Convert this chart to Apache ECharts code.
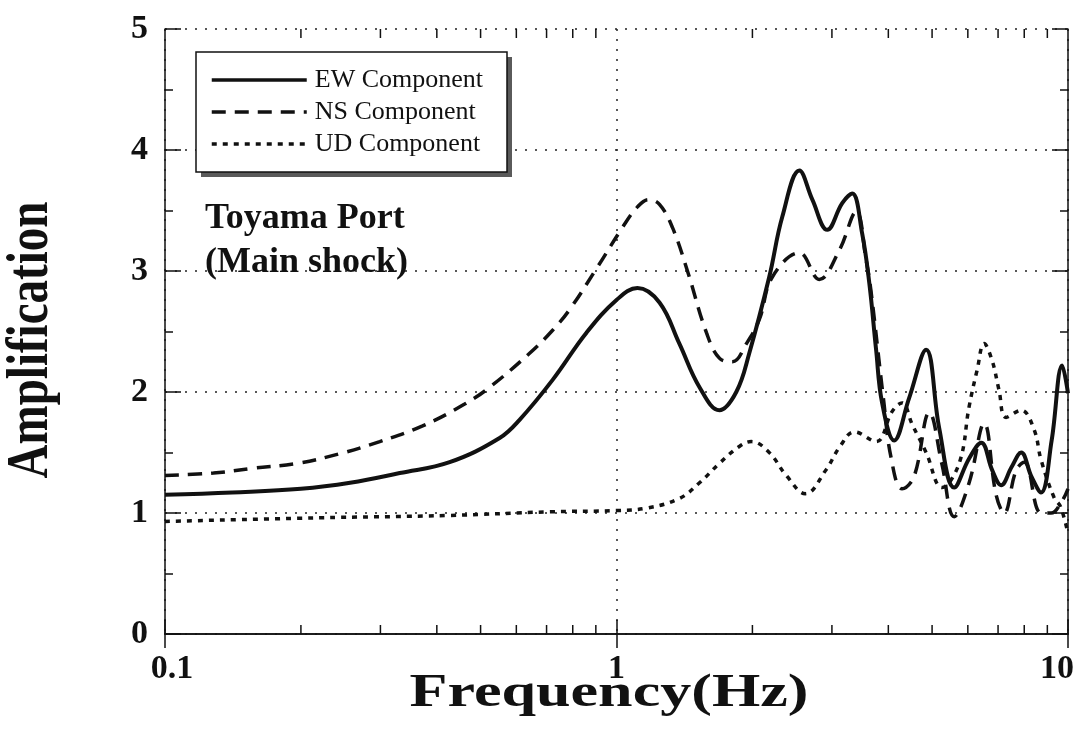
<!DOCTYPE html>
<html>
<head>
<meta charset="utf-8">
<script src="https://cdn.jsdelivr.net/npm/echarts@6/dist/echarts.min.js"></script>
<style>
  html, body { margin: 0; padding: 0; background: #fff; }
  #chart { width: 1092px; height: 748px; }
</style>
</head>
<body>
<div id="chart"></div>
<script>
// Frequency (Hz) and amplification for each component
const freqEW = [0.1, 0.141, 0.2, 0.257, 0.331, 0.427, 0.551, 0.61, 0.722, 0.858, 1.0, 1.113, 1.245, 1.378, 1.527, 1.69, 1.842, 1.968, 2.179, 2.33, 2.541, 2.715, 2.93, 3.162, 3.326, 3.5, 3.63, 3.758, 3.875, 4.12, 4.447, 4.85, 5.186, 5.597, 6.04, 6.424, 6.8, 7.11, 7.5, 7.875, 8.3, 8.715, 9.2, 9.705, 10];
const ampEW  = [1.15, 1.17, 1.2, 1.25, 1.33, 1.42, 1.62, 1.77, 2.1, 2.49, 2.76, 2.86, 2.74, 2.4, 2.04, 1.85, 2.0, 2.32, 2.95, 3.45, 3.83, 3.59, 3.34, 3.56, 3.64, 3.31, 2.9, 2.35, 1.91, 1.6, 1.95, 2.35, 1.7, 1.21, 1.45, 1.58, 1.35, 1.23, 1.38, 1.5, 1.3, 1.17, 1.6, 2.22, 1.99];

const freqNS = [0.1, 0.128, 0.157, 0.196, 0.244, 0.299, 0.372, 0.461, 0.524, 0.642, 0.722, 0.787, 0.903, 1.031, 1.113, 1.177, 1.245, 1.33, 1.436, 1.582, 1.69, 1.806, 1.94, 2.072, 2.214, 2.541, 2.812, 3.114, 3.396, 3.572, 3.66, 3.9, 4.06, 4.29, 4.56, 4.93, 5.26, 5.597, 6.04, 6.52, 6.93, 7.22, 7.67, 8.0, 8.715, 9.17, 9.7, 10];
const ampNS  = [1.31, 1.33, 1.37, 1.41, 1.49, 1.59, 1.72, 1.9, 2.04, 2.32, 2.51, 2.68, 3.02, 3.36, 3.53, 3.59, 3.55, 3.36, 3.0, 2.49, 2.28, 2.25, 2.4, 2.6, 2.95, 3.15, 2.93, 3.17, 3.49, 3.09, 2.84, 1.95, 1.45, 1.2, 1.3, 1.83, 1.4, 0.97, 1.25, 1.74, 1.15, 1.0, 1.35, 1.42, 1.0, 1.0, 1.1, 1.2];

const freqUD = [0.1, 0.217, 0.427, 0.711, 1.0, 1.165, 1.378, 1.527, 1.69, 1.871, 1.99, 2.179, 2.377, 2.62, 2.915, 3.114, 3.365, 3.758, 4.08, 4.29, 4.52, 4.85, 5.26, 5.74, 6.04, 6.29, 6.52, 6.79, 7.03, 7.29, 7.875, 8.41, 8.715, 9.31, 9.63, 10];
const ampUD  = [0.93, 0.96, 0.98, 1.01, 1.02, 1.04, 1.12, 1.25, 1.41, 1.55, 1.59, 1.5, 1.31, 1.16, 1.36, 1.54, 1.67, 1.59, 1.84, 1.91, 1.73, 1.5, 1.21, 1.41, 1.88, 2.18, 2.4, 2.26, 2.02, 1.79, 1.85, 1.69, 1.44, 1.13, 1.05, 0.83];

// Axis ranges and minor log ticks
const freqMin = 0.1, freqMax = 10;
const ampMin = 0, ampMax = 5;
const minorFreqTicks = [0.2, 0.3, 0.4, 0.5, 0.6, 0.7, 0.8, 0.9, 2, 3, 4, 5, 6, 7, 8, 9];

const zip = (xs, ys) => xs.map((x, i) => [x, ys[i]]);
const SERIF = '"Liberation Serif", "Times New Roman", serif';
const INK = '#111';

const chart = echarts.init(document.getElementById('chart'));

const baseX = {
  type: 'log', logBase: 10, min: freqMin, max: freqMax,
  axisLine: { show: true, lineStyle: { color: INK, width: 1.5 } },
  axisTick: { show: true, inside: true, length: 14, lineStyle: { color: INK, width: 1.5 } },
  minorTick: { show: false },
  splitLine: { show: false }
};
const baseY = {
  type: 'value', min: ampMin, max: ampMax, interval: 1,
  axisLine: { show: true, lineStyle: { color: INK, width: 1.5 } },
  axisTick: { show: true, inside: true, length: 16, lineStyle: { color: INK, width: 1.5 } },
  minorTick: { show: true, splitNumber: 2, length: 8, lineStyle: { color: INK, width: 1.5 } },
  splitLine: { show: false }
};

chart.setOption({
  animation: false,
  backgroundColor: '#fff',
  grid: { left: 165, right: 24, top: 29, bottom: 114, containLabel: false },
  xAxis: [
    Object.assign({}, baseX, {
      position: 'bottom',
      splitLine: { show: true, lineStyle: { color: '#222', width: 1.5, type: [2, 8] } },
      axisLabel: {
        show: true, margin: 18, color: INK,
        fontFamily: SERIF, fontWeight: 'bold', fontSize: 34,
        formatter: v => v === freqMin ? '{l|0.1}' : (v === freqMax ? '{r|10}' : '{c|' + v + '}'),
        rich: {
          l: { fontFamily: SERIF, fontWeight: 'bold', fontSize: 34, color: INK, padding: [0, 0, 0, 14] },
          c: { fontFamily: SERIF, fontWeight: 'bold', fontSize: 34, color: INK },
          r: { fontFamily: SERIF, fontWeight: 'bold', fontSize: 34, color: INK, padding: [0, 22, 0, 0] }
        }
      }
    }),
    Object.assign({}, baseX, { position: 'top', axisLabel: { show: false } })
  ],
  yAxis: [
    Object.assign({}, baseY, {
      position: 'left',
      splitLine: { show: true, lineStyle: { color: '#222', width: 1.5, type: [2, 8] } },
      axisLabel: { show: true, margin: 17, color: INK, fontFamily: SERIF, fontWeight: 'bold', fontSize: 34 }
    }),
    Object.assign({}, baseY, { position: 'right', axisLabel: { show: false } })
  ],
  legend: {
    data: ['EW Component', 'NS Component', 'UD Component'],
    orient: 'vertical',
    left: 196, top: 52, z: 10,
    padding: [14, 20, 14, 14],
    itemWidth: 95, itemHeight: 14, itemGap: 4,
    backgroundColor: 'transparent', borderWidth: 0,
    selectedMode: false,
    itemStyle: { color: 'rgba(0,0,0,0)', borderWidth: 0, opacity: 0 },
    lineStyle: { width: 3.5, color: INK },
    textStyle: { fontFamily: SERIF, fontSize: 26, color: INK, lineHeight: 28, padding: [0, 0, 0, 3] }
  },
  graphic: [
    // legend frame with its drop shadow
    {
      type: 'rect', z: 1, silent: true,
      shape: { x: 201, y: 57, width: 311, height: 120 },
      style: { fill: '#5a5a5a' }
    },
    {
      type: 'rect', z: 2, silent: true,
      shape: { x: 196, y: 52, width: 311, height: 120 },
      style: { fill: '#fff', stroke: INK, lineWidth: 1.5 }
    },
    {
      type: 'text', x: 205, y: 197, z: 10,
      style: {
        text: 'Toyama Port\n(Main shock)',
        font: 'bold 36px ' + SERIF, fill: INK, lineHeight: 44,
        align: 'left', verticalAlign: 'top'
      }
    },
    {
      type: 'text', x: 609, y: 694, scaleX: 1.35, z: 10,
      style: {
        text: 'Frequency(Hz)', font: 'bold 46px ' + SERIF, fill: INK,
        align: 'center', verticalAlign: 'middle'
      }
    },
    {
      type: 'text', x: 32, y: 340, rotation: Math.PI / 2, scaleY: 1.25, z: 10,
      style: {
        text: 'Amplification', font: 'bold 47px ' + SERIF, fill: INK,
        align: 'center', verticalAlign: 'middle'
      }
    }
  ],
  series: [
    {
      name: 'EW Component', type: 'line', data: zip(freqEW, ampEW),
      smooth: 0.4, symbol: 'none', z: 4,
      lineStyle: { color: INK, width: 4, type: 'solid' },
      itemStyle: { color: INK }
    },
    {
      name: 'NS Component', type: 'line', data: zip(freqNS, ampNS),
      smooth: 0.4, symbol: 'none', z: 3,
      lineStyle: { color: INK, width: 3.5, type: [14, 9] },
      itemStyle: { color: INK }
    },
    {
      name: 'UD Component', type: 'line', data: zip(freqUD, ampUD),
      smooth: 0.4, symbol: 'none', z: 3,
      lineStyle: { color: INK, width: 3.5, type: [5, 6] },
      itemStyle: { color: INK }
    },
    {
      // minor log ticks on the bottom and top frame
      name: 'minor ticks', type: 'custom', silent: true, clip: false, z: 5,
      xAxisIndex: 0, yAxisIndex: 0,
      data: minorFreqTicks.map(f => [f, ampMin]),
      encode: { x: 0, y: 1 },
      renderItem: function (params, api) {
        const f = api.value(0);
        const b = api.coord([f, ampMin]);
        const t = api.coord([f, ampMax]);
        const st = { stroke: INK, lineWidth: 1.5 };
        return {
          type: 'group',
          children: [
            { type: 'line', shape: { x1: b[0], y1: b[1], x2: b[0], y2: b[1] - 9 }, style: st },
            { type: 'line', shape: { x1: t[0], y1: t[1], x2: t[0], y2: t[1] + 9 }, style: st }
          ]
        };
      }
    }
  ]
});
</script>
</body>
</html>
